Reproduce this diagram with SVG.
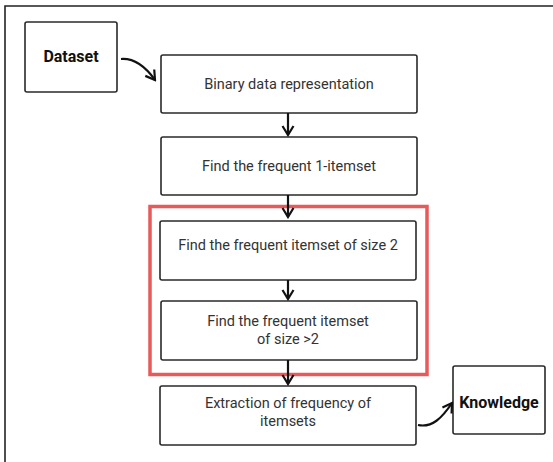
<svg xmlns="http://www.w3.org/2000/svg" width="553" height="462" viewBox="0 0 553 462">
<defs>
<style>
.box{fill:#fff;stroke:#2a2a2a;stroke-width:1.6}
.t{font-family:Roboto,"Liberation Sans",sans-serif;font-size:14.5px;fill:#333;text-anchor:middle}
.b{font-family:Roboto,"Liberation Sans",sans-serif;font-size:16px;font-weight:bold;fill:#111;text-anchor:middle}
.c{fill:none;stroke:#111;stroke-width:2.2}
</style>
<marker id="v" viewBox="0 0 14 14" refX="12" refY="7" markerWidth="14" markerHeight="14" markerUnits="userSpaceOnUse" orient="auto">
<path d="M3,1.5 L12,7 L3,12.5" fill="none" stroke="#111" stroke-width="2.2"/>
</marker>
</defs>
<rect width="553" height="462" fill="#fff"/>
<path d="M5,462 V6 H553" fill="none" stroke="#222" stroke-width="1.6"/>
<g id="group-frame">
<rect x="150" y="206.5" width="277" height="168" fill="none" stroke="#e85a5a" stroke-width="3.5"/>
</g>
<g id="dataset"><rect class="box" x="25" y="22" width="92" height="70" rx="2"/><text class="b" x="71" y="62">Dataset</text></g>
<g id="binary"><rect class="box" x="161" y="55" width="256" height="58" rx="2"/><text class="t" x="289" y="89">Binary data representation</text></g>
<g id="one-itemset"><rect class="box" x="161" y="137" width="256" height="58" rx="2"/><text class="t" x="289" y="171">Find the frequent 1-itemset</text></g>
<g id="size2"><rect class="box" x="160" y="221" width="256" height="59" rx="2"/><text class="t" x="288" y="250">Find the frequent itemset of size 2</text></g>
<g id="size-gt2"><rect class="box" x="161" y="301" width="256" height="59" rx="2"/><text class="t" x="288" y="326">Find the frequent itemset</text><text class="t" x="288" y="344">of size &gt;2</text></g>
<g id="extraction"><rect class="box" x="160" y="386" width="256" height="59" rx="2"/><text class="t" x="288" y="408">Extraction of frequency of</text><text class="t" x="288" y="426">itemsets</text></g>
<g id="knowledge"><rect class="box" x="453" y="366" width="92" height="68" rx="2"/><text class="b" x="499" y="408">Knowledge</text></g>
<g id="connectors">
<path class="c" d="M121,59 C134,58 145,66 155,80" marker-end="url(#v)"/>
<path class="c" d="M288,113 V135" marker-end="url(#v)"/>
<path class="c" d="M288,195 V217" marker-end="url(#v)"/>
<path class="c" d="M288,280 V299" marker-end="url(#v)"/>
<path class="c" d="M288,360 V384" marker-end="url(#v)"/>
<path class="c" d="M418,425 C432,428 442,418 452,403" marker-end="url(#v)"/>
</g>
</svg>
